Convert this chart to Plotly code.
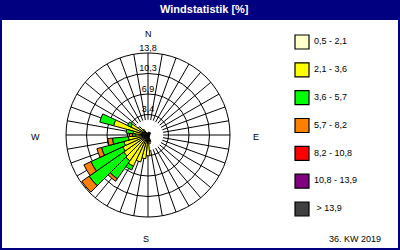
import numpy as np
import plotly.graph_objects as go

# ---------------- data ----------------
DIRECTIONS = list(range(0, 360, 10))          # compass degrees
CLASS_LABELS = ["0,5 - 2,1", "2,1 - 3,6", "3,6 - 5,7", "5,7 - 8,2",
                "8,2 - 10,8", "10,8 - 13,9", " > 13,9"]
CLASS_COLORS = ["#FFFFCC", "#FFFF00", "#00FF00", "#FF8000",
                "#FF0000", "#800080", "#404040"]

def _row(d):
    return [d.get(a, 0.0) for a in DIRECTIONS]

C1 = _row({0: 0.3, 10: 0.5, 20: 0.5, 30: 0.5, 40: 0.5, 50: 0.5, 60: 0.5, 70: 0.3,
           80: 0.3, 90: 0.3, 100: 0.3, 110: 0.3, 120: 0.3, 130: 0.3, 140: 0.3,
           150: 0.3, 160: 0.7, 170: 0.7, 180: 0.8, 190: 0.8, 200: 0.8, 210: 0.8,
           220: 0.8, 230: 0.8, 240: 0.8, 250: 0.8, 260: 0.8, 270: 0.8, 280: 0.8,
           290: 1.0, 300: 0.8, 310: 0.8, 320: 0.7, 330: 0.5, 340: 0.3, 350: 0.3})
C2 = _row({160: 0.5, 170: 0.8, 180: 2.7, 190: 3.2, 200: 3.9, 210: 5.0, 220: 4.5,
           230: 4.2, 240: 3.9, 250: 3.4, 260: 2.5, 270: 1.3, 280: 1.7, 290: 5.0,
           300: 2.4, 310: 1.2, 320: 0.5})
C3 = _row({210: 0.7, 220: 3.7, 230: 7.1, 240: 5.9, 250: 3.9, 260: 2.7, 270: 0.5,
           280: 1.2, 290: 2.4, 300: 0.6})
C4 = _row({220: 0.5, 230: 1.5, 240: 1.3, 250: 0.8, 260: 0.8, 270: 0.5})
C5 = _row({})
C6 = _row({})
C7 = _row({})
SERIES = [C1, C2, C3, C4, C5, C6, C7]

RADIAL_TICKS = [3.45, 6.9, 10.35, 13.8]
RADIAL_TICK_TEXT = ["3,4", "6,9", "10,3", "13,8"]
R_MAX = 13.8
COMPASS = ["N", "E", "S", "W"]
FOOTER = "36. KW 2019"
TITLE = "Windstatistik [%]"

# ---------------- styling ----------------
NAVY = "#000080"
FONT = "Liberation Sans, Arial, sans-serif"
HOLE_R = 2.5

fig = go.Figure()

# white hub that hides the spokes near the centre (drawn under the bars)
fig.add_trace(go.Barpolar(
    r=[HOLE_R] * 4, theta=[45, 135, 225, 315], width=[90] * 4,
    marker=dict(color="white", line=dict(color="white", width=1)),
    hoverinfo="skip", showlegend=False))

base = np.zeros(len(DIRECTIONS))
for vals, col, lab in zip(SERIES, CLASS_COLORS, CLASS_LABELS):
    v = np.array(vals, dtype=float)
    mask = v > 0
    if mask.any():
        fig.add_trace(go.Barpolar(
            r=v[mask], theta=np.array(DIRECTIONS)[mask], base=base[mask],
            width=10, name=lab,
            marker=dict(color=col, line=dict(color="black", width=1)),
            showlegend=False))
    base = base + v

# radial tick labels on the north spoke
fig.add_trace(go.Scatterpolar(
    r=RADIAL_TICKS, theta=[0] * len(RADIAL_TICKS), mode="text",
    text=RADIAL_TICK_TEXT, textposition="top center",
    textfont=dict(family=FONT, size=9, color="black"),
    cliponaxis=False, hoverinfo="skip", showlegend=False))

fig.update_layout(
    width=400, height=250,
    margin=dict(l=0, r=0, t=0, b=0),
    paper_bgcolor="white", plot_bgcolor="white",
    showlegend=False,
    polar=dict(
        domain=dict(x=[66 / 400, 230 / 400], y=[33 / 250, 197 / 250]),
        bgcolor="white",
        barmode="overlay",
        radialaxis=dict(range=[0, R_MAX], tickvals=RADIAL_TICKS,
                        showticklabels=False, ticks="", showline=False,
                        gridcolor="black", gridwidth=1),
        angularaxis=dict(rotation=90, direction="clockwise",
                         tickmode="linear", tick0=0, dtick=10,
                         showticklabels=False, ticks="",
                         showline=True, linecolor="black", linewidth=1,
                         gridcolor="black", gridwidth=1),
    ),
)

# legend drawn in its own cartesian area
idx = list(range(len(CLASS_LABELS)))
fig.add_trace(go.Scatter(
    x=[22] * len(idx), y=idx, mode="markers",
    marker=dict(symbol="square", size=14, color=CLASS_COLORS,
                line=dict(color="black", width=1.2)),
    xaxis="x", yaxis="y", hoverinfo="skip", showlegend=False))
fig.add_trace(go.Scatter(
    x=[34] * len(idx), y=idx, mode="text", text=CLASS_LABELS,
    textposition="middle right",
    textfont=dict(family=FONT, size=9, color="black"),
    xaxis="x", yaxis="y", hoverinfo="skip", showlegend=False))
fig.update_layout(
    xaxis=dict(domain=[0.7, 1.0], range=[0, 120], visible=False, fixedrange=True),
    yaxis=dict(domain=[0, 1], range=[7.474, -1.509], visible=False, fixedrange=True),
)

# compass letters
cx, cy = 148, 135
pos = {"N": (cx, 34), "E": (256, 137), "S": (cx - 2, 239), "W": (35, 137)}
for k in COMPASS:
    x, y = pos[k]
    fig.add_annotation(x=x / 400, y=1 - y / 250, xref="paper", yref="paper",
                       text=k, showarrow=False,
                       font=dict(family=FONT, size=9, color="black"),
                       xanchor="center", yanchor="middle")

fig.add_annotation(x=355 / 400, y=1 - 239 / 250, xref="paper", yref="paper",
                   text=FOOTER, showarrow=False,
                   font=dict(family=FONT, size=9, color="black"),
                   xanchor="center", yanchor="middle")

# title bar and frame
fig.add_shape(type="rect", xref="paper", yref="paper", x0=0, x1=1,
              y0=1 - 20 / 250, y1=1, fillcolor=NAVY, line=dict(width=0),
              layer="above")
fig.add_shape(type="rect", xref="paper", yref="paper", x0=0, x1=1, y0=0, y1=1,
              line=dict(color=NAVY, width=4), fillcolor="rgba(0,0,0,0)",
              layer="above")
fig.add_annotation(x=205 / 400, y=1 - 9 / 250, xref="paper", yref="paper",
                   text="<b>" + TITLE + "</b>", showarrow=False,
                   font=dict(family=FONT, size=11, color="white"),
                   xanchor="center", yanchor="middle")

fig.write_html("out.html")
